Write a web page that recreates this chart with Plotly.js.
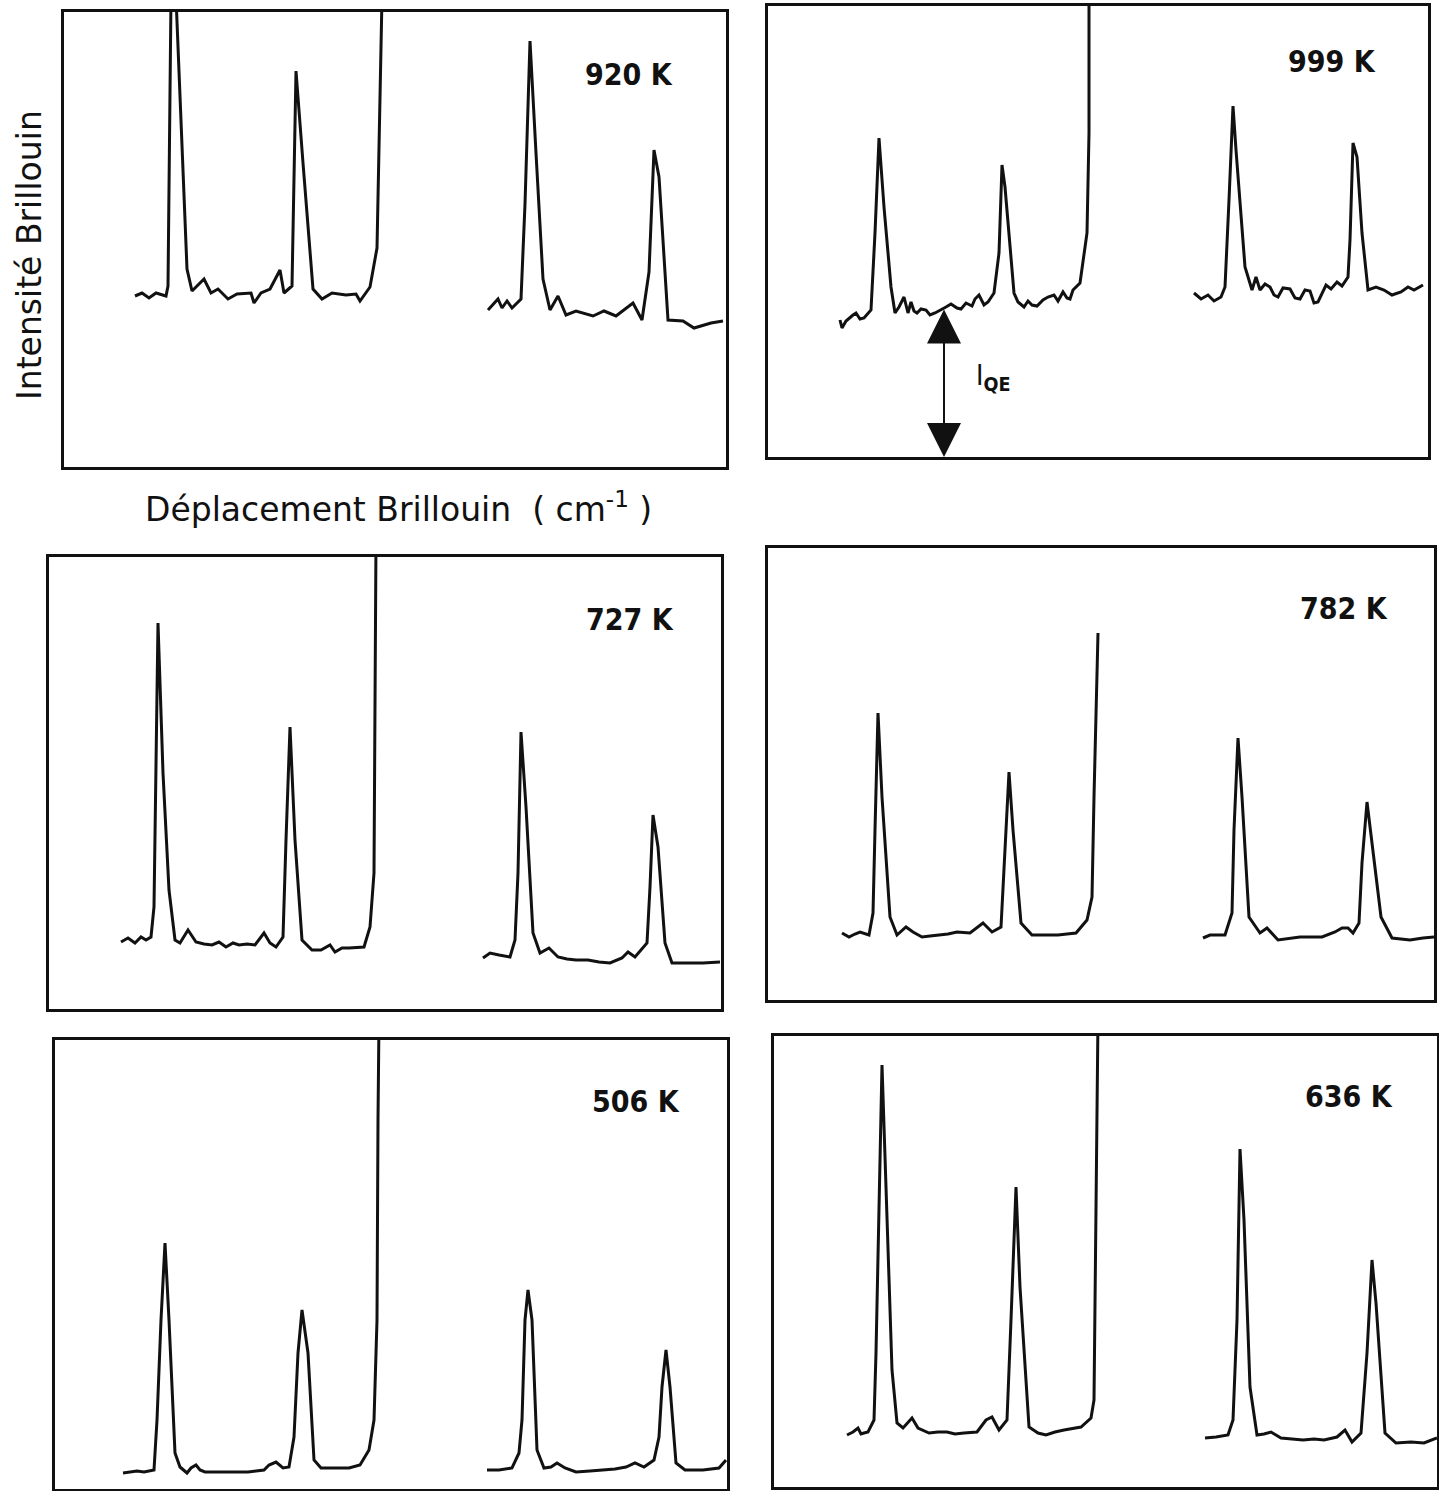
<!DOCTYPE html>
<html>
<head>
<meta charset="utf-8">
<script src="https://cdn.plot.ly/plotly-3.0.1.min.js"></script>
<style>
  html, body { margin: 0; padding: 0; background: #ffffff; }
  #chart { width: 1439px; height: 1491px; }
</style>
</head>
<body>
<div id="chart"></div>
<script>
// ---------------- DATA (arbitrary units) ----------------
const temperatures = ['920 K', '999 K', '727 K', '782 K', '506 K', '636 K'];

// 920 K
const shift920Left = [71,78,85,92,102,104,107,112,123,128,135,140,147,154,164,173,187,190,197,206,216,220,228,232,239,249,258,268,282,292,296,306,313,315,318];
const int920Left   = [171,174,169,174,171,181,470,470,198,176,183,188,174,178,168,173,174,164,174,178,197,174,181,396,304,178,168,174,172,173,166,180,219,331,470];
const shift920Right = [424,429,434,438,443,448,453,457,461,466,472,479,486,494,502,512,529,540,552,569,578,585,590,595,604,619,630,647,659];
const int920Right   = [157,163,168,159,166,159,164,168,263,426,314,188,157,171,152,156,151,156,151,164,147,195,317,290,147,146,139,144,146];

// 999 K
const shift999Left = [72,74,78,81,85,88,92,96,100,103,107,111,116,123,127,131,136,140,143,146,149,153,158,162,167,171,176,178,183,189,193,198,204,207,211,216,220,226,231,234,237,246,250,256,260,264,269,275,280,286,290,295,299,302,305,308,312,319,321,321];
const int999Left   = [137,129,136,139,142,144,138,139,143,147,224,319,250,170,144,150,160,144,155,146,144,148,147,142,144,146,149,150,153,149,148,154,151,158,162,152,155,164,204,292,270,164,155,150,156,152,151,157,160,162,156,165,159,158,167,170,174,224,324,470];
const shift999Right = [426,433,440,446,453,457,461,465,468,477,484,488,492,497,502,506,510,515,522,527,532,537,542,546,550,554,558,563,569,574,580,582,585,589,594,600,608,616,624,633,640,646,655];
const int999Right   = [164,158,162,156,160,170,257,351,307,190,167,180,167,173,170,162,160,169,168,159,158,167,166,154,155,163,172,168,175,171,180,217,314,300,224,167,170,167,162,165,170,167,172];
// quasi-elastic intensity level marked on the 999 K spectrum
const iQEshift = 176;
const iQElevel = 149;

// 727 K
const shift727Left = [72,79,86,92,97,102,105,109,114,120,126,131,139,147,155,163,170,177,184,190,198,206,215,221,227,234,237,241,246,253,263,272,281,286,293,300,315,321,325,326,327];
const int727Left   = [67,71,66,72,69,72,102,386,236,119,69,66,79,67,65,64,67,62,66,64,65,64,76,66,62,72,169,282,169,69,59,59,64,57,61,61,62,82,136,269,470];
const shift727Right = [434,441,450,461,466,469,472,477,484,491,500,509,518,527,539,550,561,573,579,586,598,601,604,609,616,623,636,654,671];
const int727Right   = [51,56,54,52,69,136,277,202,76,56,61,52,50,49,49,47,46,51,57,52,66,122,194,162,66,46,46,46,47];

// 782 K
const shift782Left = [74,81,87,92,101,105,107,110,114,122,129,138,145,154,162,171,180,189,202,215,224,233,236,241,245,253,264,277,290,299,308,319,324,326,330];
const int782Left   = [67,63,66,68,65,87,170,287,203,83,65,73,68,63,64,65,66,68,67,77,68,73,137,228,170,77,65,65,65,66,67,80,103,203,367];
const shift782Right = [435,442,457,464,466,470,474,481,492,499,510,522,532,543,554,567,574,580,585,591,594,599,605,613,624,642,655,666];
const int782Right   = [62,65,65,87,170,262,203,83,67,72,60,62,63,63,63,68,72,72,67,77,137,198,150,83,62,60,62,63];

// 506 K
const shift506Left = [68,75,82,89,99,102,106,110,114,120,125,132,136,141,145,150,166,180,193,209,214,221,228,234,239,243,247,253,259,266,280,294,305,314,319,322,323,324];
const int506Left   = [16,17,18,17,19,69,169,246,169,36,22,16,21,24,19,17,17,17,17,19,24,27,21,22,52,136,179,136,29,21,21,21,24,39,69,169,369,470];
const shift506Right = [432,444,457,464,467,470,473,477,482,489,496,502,510,521,535,548,560,571,580,589,599,604,607,611,615,621,630,648,664,671];
const int506Right   = [19,19,21,36,69,169,199,169,39,21,22,26,21,17,18,19,20,22,26,22,29,52,102,139,102,26,19,19,21,29];

// 636 K
const shift636Left = [73,79,84,87,90,94,100,102,108,113,118,123,129,138,144,155,164,173,181,190,203,212,218,225,233,237,242,246,255,264,272,281,290,307,317,320,321,324];
const int636Left   = [52,55,59,53,54,55,67,134,422,267,117,64,59,69,59,54,55,55,53,54,55,67,70,57,67,167,300,200,60,54,52,55,57,60,69,87,200,470];
const shift636Right = [431,442,454,459,463,466,470,476,483,490,497,507,518,529,540,550,563,571,578,587,593,598,602,611,622,637,650,663];
const int636Right   = [49,50,52,67,167,338,267,100,52,53,55,49,48,47,48,47,50,57,45,54,134,227,184,54,44,45,44,49];

const xTitle = 'Déplacement Brillouin  ( cm<sup>-1</sup> )';
const yTitle = 'Intensité Brillouin';

// ---------------- LAYOUT (frames in page pixels) ----------------
const PW = 1439, PH = 1491;
const frames = [
  {l: 64,  r: 726,  t: 12,   b: 467},   // 920 K
  {l: 768, r: 1428, t: 6,    b: 457},   // 999 K
  {l: 49,  r: 721,  t: 557,  b: 1009},  // 727 K
  {l: 768, r: 1434, t: 548,  b: 1000},  // 782 K
  {l: 55,  r: 727,  t: 1040, b: 1489},  // 506 K
  {l: 774, r: 1437, t: 1036, b: 1487}   // 636 K
];
const labelPos = [[0.854,0.862],[0.855,0.876],[0.865,0.861],[0.865,0.867],[0.865,0.862],[0.867,0.865]];

const spectra = [
  [[shift920Left, int920Left], [shift920Right, int920Right]],
  [[shift999Left, int999Left], [shift999Right, int999Right]],
  [[shift727Left, int727Left], [shift727Right, int727Right]],
  [[shift782Left, int782Left], [shift782Right, int782Right]],
  [[shift506Left, int506Left], [shift506Right, int506Right]],
  [[shift636Left, int636Left], [shift636Right, int636Right]]
];

const lineColor = '#111111';
const data = [];
const layout = {
  width: PW, height: PH,
  margin: {l: 0, r: 0, t: 0, b: 0},
  paper_bgcolor: '#ffffff',
  plot_bgcolor: '#ffffff',
  showlegend: false,
  annotations: [],
  font: {family: 'DejaVu Sans', color: lineColor}
};

frames.forEach((f, i) => {
  const n = i + 1;
  const xa = n === 1 ? 'xaxis' : 'xaxis' + n;
  const ya = n === 1 ? 'yaxis' : 'yaxis' + n;
  const xr = n === 1 ? 'x' : 'x' + n;
  const yr = n === 1 ? 'y' : 'y' + n;
  const common = {
    showline: true, mirror: true, linecolor: lineColor, linewidth: 2.8,
    showgrid: false, zeroline: false, showticklabels: false, ticks: '', fixedrange: true
  };
  layout[xa] = Object.assign({}, common, {
    domain: [f.l / PW, f.r / PW], range: [0, f.r - f.l], anchor: yr
  });
  layout[ya] = Object.assign({}, common, {
    domain: [1 - f.b / PH, 1 - f.t / PH], range: [0, f.b - f.t], anchor: xr
  });
  spectra[i].forEach(seg => {
    data.push({
      x: seg[0], y: seg[1], xaxis: xr, yaxis: yr,
      type: 'scatter', mode: 'lines',
      line: {color: lineColor, width: 3},
      hoverinfo: 'skip'
    });
  });
  layout.annotations.push({
    text: temperatures[i],
    xref: xr + ' domain', yref: yr + ' domain',
    x: labelPos[i][0], y: labelPos[i][1],
    xanchor: 'center', yanchor: 'middle', showarrow: false,
    font: {family: 'DejaVu Sans Condensed, DejaVu Sans', size: 30, weight: 'bold', color: lineColor}
  });
});

// I_QE double arrow + label in the 999 K panel
layout.annotations.push({
  xref: 'x2', yref: 'y2', axref: 'x2', ayref: 'y2',
  x: iQEshift, y: 0, ax: iQEshift, ay: iQElevel,
  text: '', showarrow: true, arrowside: 'end+start',
  arrowhead: 2, startarrowhead: 2, arrowsize: 3.4, startarrowsize: 3.4,
  arrowwidth: 2, arrowcolor: lineColor, standoff: 0, startstandoff: 0
});
layout.annotations.push({
  xref: 'x2', yref: 'y2', x: iQEshift + 30, y: 80,
  xanchor: 'left', yanchor: 'middle', showarrow: false,
  text: 'I<sub><b>QE</b></sub>',
  font: {family: 'DejaVu Sans Condensed, DejaVu Sans', size: 28, color: lineColor}
});

// shared axis titles
layout.annotations.push({
  xref: 'paper', yref: 'paper', x: 29 / PW, y: 1 - 255 / PH,
  xanchor: 'center', yanchor: 'middle', showarrow: false, textangle: -90,
  text: yTitle, font: {family: 'DejaVu Sans', size: 33, color: lineColor}
});
layout.annotations.push({
  xref: 'paper', yref: 'paper', x: 399 / PW, y: 1 - 508 / PH,
  xanchor: 'center', yanchor: 'middle', showarrow: false,
  text: xTitle, font: {family: 'DejaVu Sans', size: 33, color: lineColor}
});

Plotly.newPlot('chart', data, layout, {displayModeBar: false, staticPlot: true});
</script>
</body>
</html>
